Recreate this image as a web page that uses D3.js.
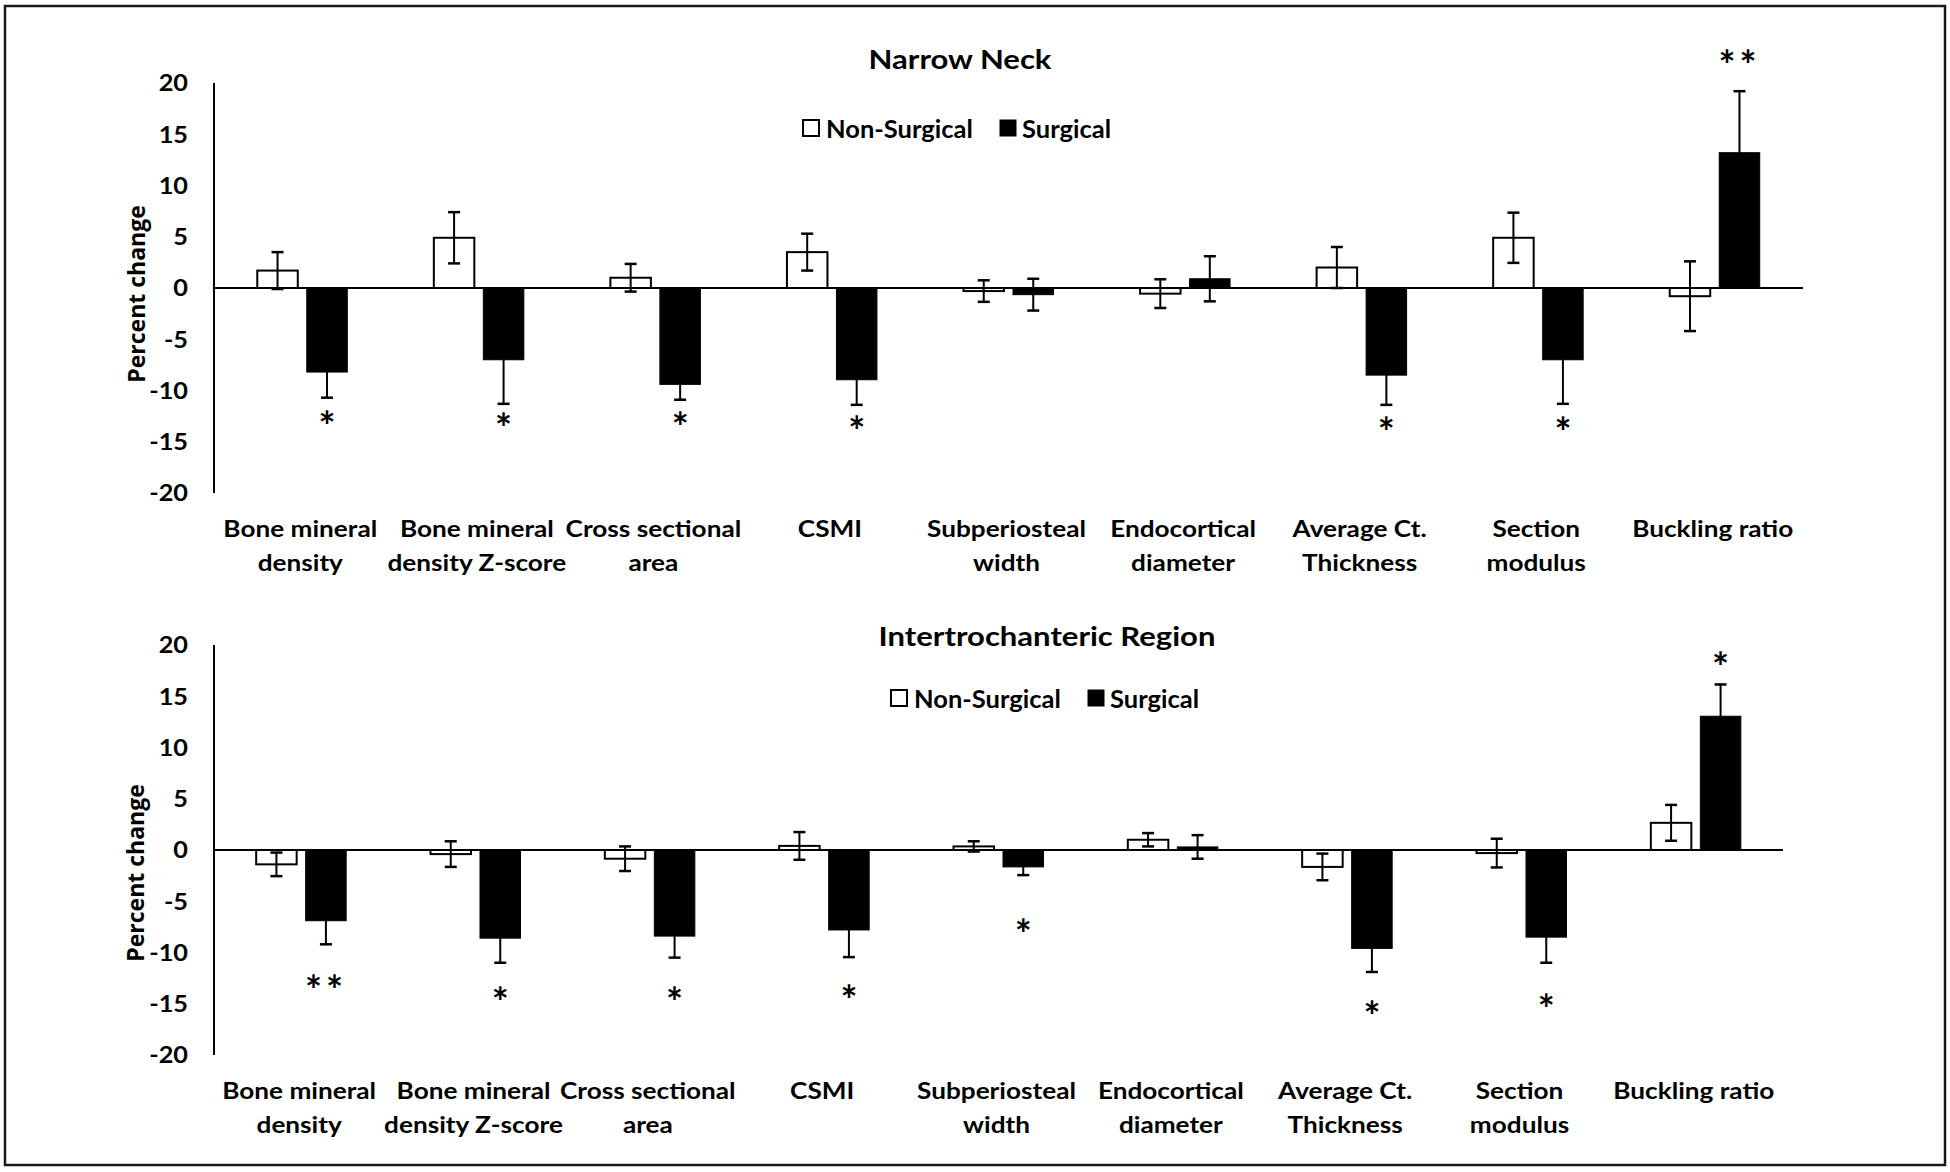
<!DOCTYPE html>
<html><head><meta charset="utf-8">
<script src="https://cdn.jsdelivr.net/npm/d3@7"></script>
<style>body{margin:0;background:#fff} svg{display:block}</style>
</head><body><svg id="c" width="1950" height="1172"></svg>
<script>
// ---------- data ----------
const categories = [
  ["Bone mineral","density"],
  ["Bone mineral","density Z-score"],
  ["Cross sectional","area"],
  ["CSMI"],
  ["Subperiosteal","width"],
  ["Endocortical","diameter"],
  ["Average Ct.","Thickness"],
  ["Section","modulus"],
  ["Buckling ratio"]
];
const seriesNames = ["Non-Surgical","Surgical"];
const yTicks = [20,15,10,5,0,-5,-10,-15,-20];

const neckTitle = "Narrow Neck";
const neckNonSurgical    = [1.7, 4.9, 1.0, 3.5, -0.3, -0.55, 2.0, 4.9, -0.8];
const neckNonSurgicalErr = [1.8, 2.5, 1.35, 1.8, 1.05, 1.4, 2.0, 2.45, 3.4];
const neckSurgical       = [-8.2, -7.0, -9.4, -8.95, -0.65, 0.9, -8.5, -7.0, 13.2];
const neckSurgicalErr    = [2.5, 4.3, 1.5, 2.45, 1.55, 2.2, 2.9, 4.3, 6.0];
const neckStars          = ["*","*","*","*","","","*","*","**"];
const neckStarAt         = [-13.0, -13.2, -13.1, -13.5, null, null, -13.6, -13.6, 22.2];

const interTitle = "Intertrochanteric Region";
const interNonSurgical    = [-1.4, -0.4, -0.85, 0.4, 0.35, 1.0, -1.65, -0.3, 2.65];
const interNonSurgicalErr = [1.15, 1.25, 1.2, 1.35, 0.5, 0.65, 1.3, 1.4, 1.75];
const interSurgical       = [-6.9, -8.6, -8.4, -7.8, -1.65, 0.3, -9.6, -8.5, 13.05];
const interSurgicalErr    = [2.3, 2.4, 2.1, 2.65, 0.8, 1.15, 2.3, 2.5, 3.1];
const interStars          = ["**","*","*","*","*","","*","*","*"];
const interStarAt         = [-13.2, -14.3, -14.3, -14.1, -7.7, null, -15.7, -15.0, 18.3];

// ---------- drawing ----------
const svg = d3.select("#c");
const FONT = "Lato, 'Open Sans', sans-serif";
const INK = "#000";

svg.append("rect").attr("x",5).attr("y",6).attr("width",1940).attr("height",1159)
  .attr("fill","#fff").attr("stroke","#1a1a1a").attr("stroke-width",2.5);

function stretchText(sel, sx) {
  sel.each(function(){
    const t = d3.select(this);
    const x = +t.attr("x"), y = +t.attr("y");
    t.attr("x",0).attr("y",0).attr("transform",`translate(${x},${y}) scale(${sx},1)`);
  });
}

function panel(cfg) {
  const g = svg.append("g");
  const x = d3.scaleBand().domain(d3.range(categories.length)).range([cfg.x0, cfg.x1]);
  const y = d3.scaleLinear().domain([-20,20]).range([cfg.yBottom, cfg.yTop]);
  const barW = 40.5, gap = 9;
  const cx = i => x(i) + x.bandwidth()/2;

  // y axis line
  g.append("line").attr("x1",cfg.x0).attr("x2",cfg.x0).attr("y1",y(20)).attr("y2",y(-20))
    .attr("stroke",INK).attr("stroke-width",2);
  // tick labels
  const tl = g.selectAll("text.tick").data(yTicks).join("text").attr("class","tick")
    .attr("x",cfg.x0-26).attr("y",d=>y(d)).attr("text-anchor","end").attr("dominant-baseline","central")
    .attr("font-family",FONT).attr("font-weight",700).attr("font-size",22).attr("fill",INK)
    .text(d=>d);
  stretchText(tl, 1.15);

  // y label
  g.append("text").attr("transform",`translate(${cfg.ylabX},${cfg.ylabY}) rotate(-90)`)
    .attr("text-anchor","middle").attr("dominant-baseline","central")
    .attr("font-family","'Open Sans', sans-serif").attr("font-weight",700).attr("font-size",23).attr("fill",INK)
    .text("Percent change");

  // bars
  const nsX = i => cx(i) - gap/2 - barW;
  const sX  = i => cx(i) + gap/2;

  // error bars (drawn first for surgical so the black bar hides the inner half)
  function errBars(vals, errs, xf, cls) {
    const eg = g.selectAll("g."+cls).data(vals).join("g").attr("class",cls);
    const cap = 12;
    eg.append("line").attr("x1",(d,i)=>xf(i)+barW/2).attr("x2",(d,i)=>xf(i)+barW/2)
      .attr("y1",(d,i)=>y(d+errs[i])).attr("y2",(d,i)=>y(d-errs[i]))
      .attr("stroke",INK).attr("stroke-width",2);
    [1,-1].forEach(sg=>{
      eg.append("line").attr("x1",(d,i)=>xf(i)+barW/2-cap/2).attr("x2",(d,i)=>xf(i)+barW/2+cap/2)
        .attr("y1",(d,i)=>y(d+sg*errs[i])).attr("y2",(d,i)=>y(d+sg*errs[i]))
        .attr("stroke",INK).attr("stroke-width",2.5);
    });
  }
  errBars(cfg.s, cfg.sErr, sX, "es");

  g.selectAll("rect.ns").data(cfg.ns).join("rect").attr("class","ns")
    .attr("x",(d,i)=>nsX(i)).attr("width",barW)
    .attr("y",d=>Math.min(y(d),y(0))).attr("height",d=>Math.abs(y(d)-y(0)))
    .attr("fill","#fff").attr("stroke",INK).attr("stroke-width",2);
  g.selectAll("rect.s").data(cfg.s).join("rect").attr("class","s")
    .attr("x",(d,i)=>sX(i)).attr("width",barW)
    .attr("y",d=>Math.min(y(d),y(0))).attr("height",d=>Math.abs(y(d)-y(0)))
    .attr("fill","#000").attr("stroke","#000").attr("stroke-width",1);

  // zero line
  g.append("line").attr("x1",cfg.x0).attr("x2",cfg.x1).attr("y1",y(0)).attr("y2",y(0))
    .attr("stroke",INK).attr("stroke-width",2);

  errBars(cfg.ns, cfg.nsErr, nsX, "ens");

  // significance stars
  g.selectAll("text.star").data(cfg.stars.map((s,i)=>({s,v:cfg.starAt[i],i})).filter(d=>d.s))
    .join("text").attr("class","star")
    .attr("x",d=>sX(d.i)+barW/2).attr("y",d=>y(d.v)+20)
    .attr("text-anchor","middle").attr("font-family",FONT).attr("font-weight",700)
    .attr("font-size",40).attr("letter-spacing",d=>d.s.length>1?"4px":"0px").attr("fill",INK)
    .text(d=>d.s);

  // category labels
  categories.forEach((lines,i)=>{
    lines.forEach((ln,k)=>{
      const t = g.append("text").attr("x",cx(i)-2).attr("y",cfg.labY + k*34)
        .attr("text-anchor","middle").attr("dominant-baseline","central")
        .attr("font-family",FONT).attr("font-weight",700).attr("font-size",22).attr("fill",INK)
        .text(ln);
      stretchText(t, 1.19);
    });
  });

  // title
  const tt = g.append("text").attr("x",cfg.titleX).attr("y",cfg.titleY).attr("text-anchor","middle")
    .attr("dominant-baseline","central").attr("font-family",FONT).attr("font-weight",700)
    .attr("font-size",27).attr("fill",INK).text(cfg.title);
  stretchText(tt, 1.15);

  // legend
  const lg = g.append("g").attr("transform",`translate(${cfg.legX},${cfg.legY})`);
  lg.append("rect").attr("x",1).attr("y",-8).attr("width",16).attr("height",16)
    .attr("fill","#fff").attr("stroke",INK).attr("stroke-width",2);
  lg.append("text").attr("x",24).attr("y",0).attr("dominant-baseline","central")
    .attr("font-family",FONT).attr("font-weight",700).attr("font-size",25.5).attr("fill",INK).text(seriesNames[0]);
  lg.append("rect").attr("x",cfg.legGap).attr("y",-8).attr("width",16).attr("height",16)
    .attr("fill","#000").attr("stroke","#000").attr("stroke-width",1);
  lg.append("text").attr("x",cfg.legGap+22).attr("y",0).attr("dominant-baseline","central")
    .attr("font-family",FONT).attr("font-weight",700).attr("font-size",25.5).attr("fill",INK).text(seriesNames[1]);
}

panel({title:neckTitle, ns:neckNonSurgical, nsErr:neckNonSurgicalErr, s:neckSurgical, sErr:neckSurgicalErr,
  stars:neckStars, starAt:neckStarAt,
  x0:214, x1:1803, yTop:83, yBottom:493, titleX:960, titleY:58, legX:802, legY:128, legGap:198,
  ylabX:136, ylabY:294, labY:528});
panel({title:interTitle, ns:interNonSurgical, nsErr:interNonSurgicalErr, s:interSurgical, sErr:interSurgicalErr,
  stars:interStars, starAt:interStarAt,
  x0:214, x1:1783, yTop:645, yBottom:1055, titleX:1047, titleY:635, legX:890, legY:698, legGap:198,
  ylabX:135, ylabY:873, labY:1090});
</script></body></html>
